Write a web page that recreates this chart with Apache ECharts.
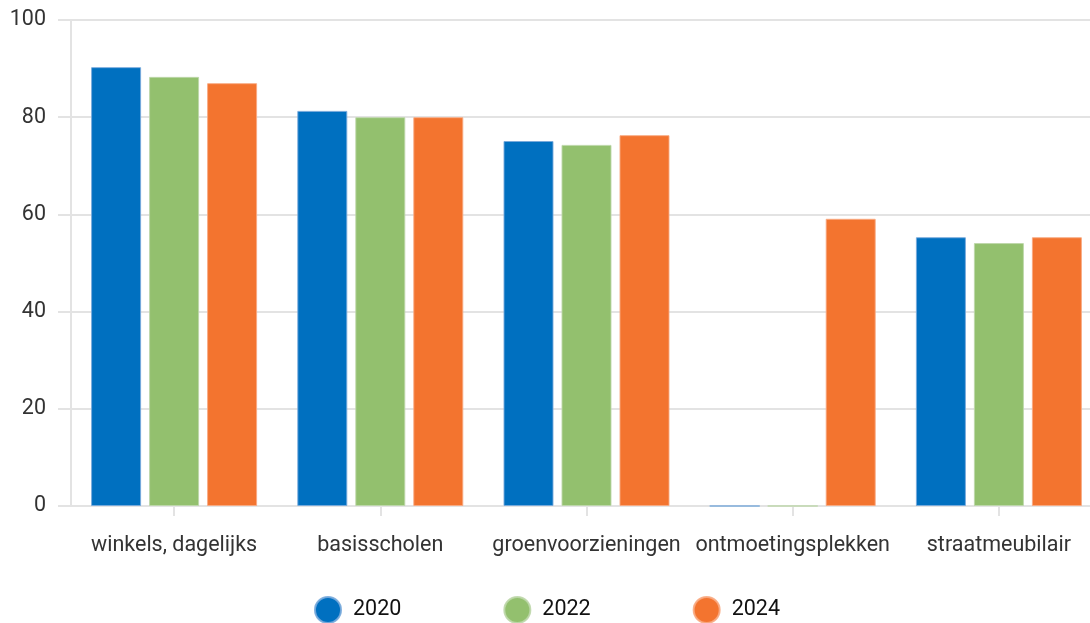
<!DOCTYPE html>
<html>
<head>
<meta charset="utf-8">
<script src="https://cdn.jsdelivr.net/npm/echarts@6/dist/echarts.min.js"></script>
<style>html,body{margin:0;padding:0;background:#fff}#c{width:1090px;height:623px}</style>
</head>
<body>
<div id="c"></div>
<script>
const categories = ['winkels, dagelijks', 'basisscholen', 'groenvoorzieningen', 'ontmoetingsplekken', 'straatmeubilair'];
const years = ['2020', '2022', '2024'];
const values2020 = [90.3, 81.3, 75.1, 0, 55.3];
const values2022 = [88.3, 80.0, 74.3, 0, 54.1];
const values2024 = [87.0, 80.0, 76.3, 59.1, 55.3];
const yTicks = [0, 20, 40, 60, 80, 100];

const colors = ['#0070C0', '#93C06E', '#F3742F'];
const borders = ['rgba(120,170,220,0.9)', 'rgba(190,215,170,0.9)', 'rgba(248,170,130,0.9)'];
const seriesData = [values2020, values2022, values2024];

const chart = echarts.init(document.getElementById('c'), null, {renderer: 'canvas'});
chart.setOption({
  animation: false,
  textStyle: {fontFamily: 'Roboto'},
  grid: {left: 71, right: -12, top: 20, bottom: 117, containLabel: false, outerBoundsMode: 'none'},
  legend: {
    data: years,
    left: 314,
    top: 596,
    padding: 0,
    icon: 'circle',
    itemWidth: 26,
    itemHeight: 26,
    itemGap: 102,
    textStyle: {fontSize: 21.5, color: '#111', fontFamily: 'Roboto', padding: [0, 0, 0, 7]}
  },
  xAxis: {
    type: 'category',
    data: categories,
    axisLine: {show: true, lineStyle: {color: '#e3e3e3', width: 2}},
    axisTick: {show: true, alignWithLabel: true, length: 10, lineStyle: {color: '#e3e3e3', width: 2}},
    axisLabel: {fontSize: 21.5, color: '#333', margin: 29, interval: 0, fontFamily: 'Roboto'}
  },
  yAxis: {
    type: 'value',
    min: yTicks[0],
    max: yTicks[yTicks.length - 1],
    interval: 20,
    axisLine: {show: true, lineStyle: {color: '#e3e3e3', width: 2}},
    axisTick: {show: true, length: 13, lineStyle: {color: '#e3e3e3', width: 2}},
    splitLine: {show: true, lineStyle: {color: '#e3e3e3', width: 2}},
    axisLabel: {fontSize: 21.5, color: '#333', margin: 25, fontFamily: 'Roboto'}
  },
  series: years.map((y, i) => ({
    name: y,
    type: 'bar',
    data: seriesData[i],
    barWidth: 50,
    barGap: '16%',
    itemStyle: {color: colors[i], borderColor: borders[i], borderWidth: 1}
  }))
});
</script>
</body>
</html>
